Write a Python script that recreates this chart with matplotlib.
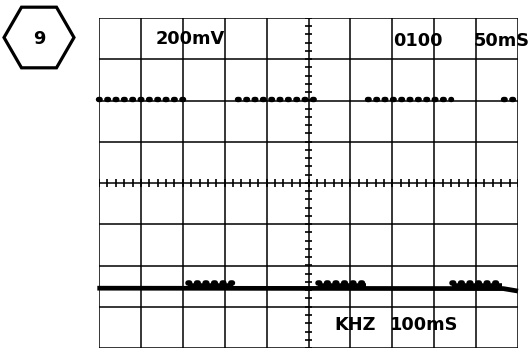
import numpy as np
import matplotlib
matplotlib.use('Agg')
import matplotlib.pyplot as plt
from matplotlib.patches import RegularPolygon

# screen data, in divisions (10 x 8 graticule, 0 at centre line)
top_level = 2.03
top_starts = [-0.03, 3.30, 6.40, 9.65]
top_ends = [2.05, 5.20, 8.40, 10.0]

base_x = [-0.04, 9.65, 10.0]
base_y = [-2.55, -2.56, -2.62]
bump_starts = [2.12, 5.22, 8.42]
bump_ends = [3.20, 6.38, 9.62]
bump_level = -2.42

top_labels = ['200mV', '0100', '50mS']
top_label_x = [2.18, 7.6, 9.6]
bottom_labels = ['KHZ', '100mS']
bottom_label_x = [6.1, 7.75]
badge = '9'

W, H = 532, 348
fig = plt.figure(figsize=(W / 100, H / 100), dpi=100)
fig.patch.set_facecolor('white')

# graticule area in pixels: x 99..518, y 19..348
ax = fig.add_axes([99 / W, 0.0, 419 / W, 330 / H])
ax.set_xlim(0, 10)
ax.set_ylim(-4, 4)
ax.axis('off')

grid_lw = 1.1
for xv in range(0, 11):
    ax.axvline(xv, color='black', lw=grid_lw, zorder=1)
for yv in range(-4, 5):
    ax.axhline(yv, color='black', lw=grid_lw, zorder=1)

# minor ticks on the centre axes
minor = np.arange(0, 10.01, 0.2)
ax.vlines(minor, -0.09, 0.09, color='black', lw=1.2, zorder=1)
minor_y = np.arange(-4, 4.01, 0.2)
ax.hlines(minor_y, 4.92, 5.08, color='black', lw=1.2, zorder=1)

# upper trace: dotted segments
dots = (0, (0.3, 1.24))
for x0, x1 in zip(top_starts, top_ends):
    ax.plot([x0, x1], [top_level, top_level], color='black', lw=3.9,
            ls=dots, dash_capstyle='round', zorder=3, clip_on=False)

# lower trace: thick baseline with raised dotted blocks
ax.plot(base_x, base_y, color='black', lw=3.4, solid_capstyle='butt',
        zorder=3, clip_on=False)
for x0, x1 in zip(bump_starts, bump_ends):
    ax.plot([x0, x1], [bump_level, bump_level], color='black', lw=4.0,
            ls=dots, dash_capstyle='round', zorder=3)
    ax.plot([x0, x1], [bump_level - 0.07, bump_level - 0.07],
            color='black', lw=4.0, solid_capstyle='butt', zorder=3)

txt = dict(fontsize=12.8, fontweight='bold', family='DejaVu Sans',
           ha='center', va='center', color='black', clip_on=False)
ax.text(top_label_x[0], 3.5, top_labels[0], **txt)
ax.text(top_label_x[1], 3.45, top_labels[1], **txt)
ax.text(top_label_x[2], 3.45, top_labels[2], **txt)
ax.text(bottom_label_x[0], -3.45, bottom_labels[0], **txt)
ax.text(bottom_label_x[1], -3.45, bottom_labels[1], **txt)

# hexagon badge, pixel coordinates
ov = fig.add_axes([0, 0, 1, 1])
ov.set_xlim(0, W)
ov.set_ylim(H, 0)
ov.axis('off')
ov.patch.set_alpha(0)
hexagon = RegularPolygon((39, 37.5), numVertices=6, radius=35,
                         orientation=np.pi / 6, fill=False,
                         edgecolor='black', lw=2.3)
ov.add_patch(hexagon)
ov.text(39, 39, badge, fontsize=12.8, fontweight='bold',
        family='DejaVu Sans', ha='center', va='center')

fig.savefig('out.png', dpi=100)
